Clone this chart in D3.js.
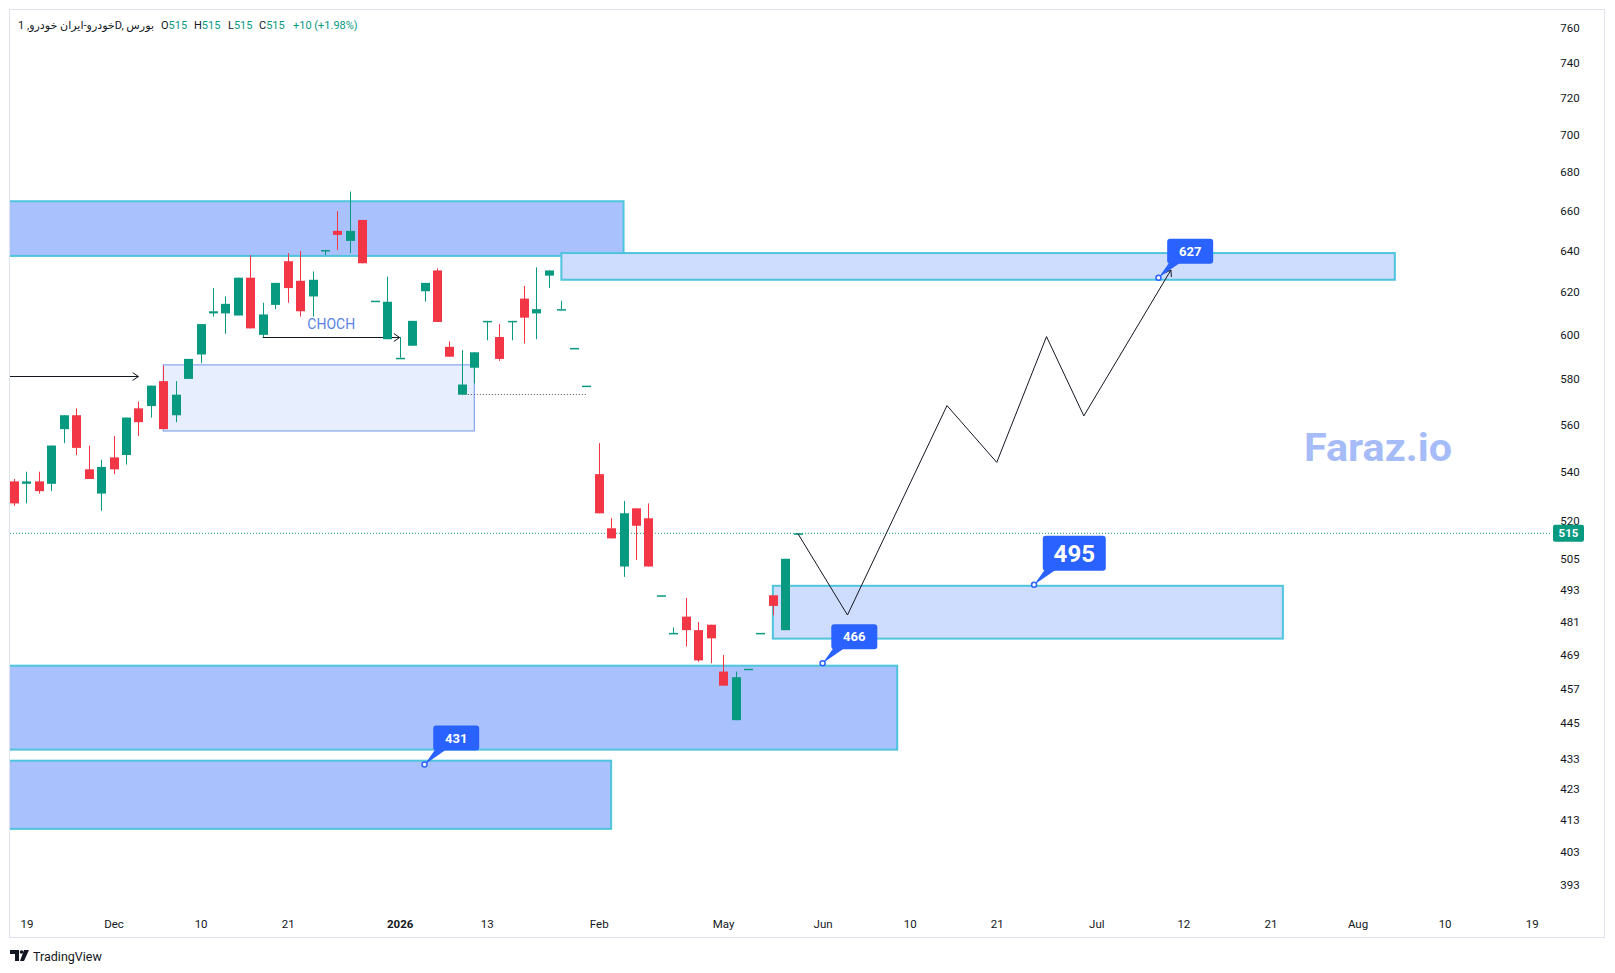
<!DOCTYPE html>
<html lang="en">
<head>
<meta charset="utf-8">
<title>Iran Khodro daily chart</title>
<script type="text/javascript" src="https://cdn.jsdelivr.net/npm/d3@7/dist/d3.min.js"></script>
<style type="text/css">
    body { margin: 0; background: #ffffff; }
    svg text { font-family: Roboto, "Noto Sans", "DejaVu Sans", sans-serif; }
</style>
</head>
<body>
<script type="text/javascript">
//Daily candles, bar index 0..63
var opens  = [536, 535, 536, 535, 558, 564, 541, 531, 546, 547, 567, 568, 579, 564, 580, 591,
              610, 610, 609, 627, 600, 614, 635, 625.5, 618, 640.5, 650, 645, 655.5, 616, 598, 589.5,
              595, 620.5, 630.5, 594.5, 573, 585, 606.5, 599, 606.5, 617, 610, 628, 612, 594, 577,
              539, 517, 502, 525, 521, 491, 477, 483, 478, 480, 463, 446, 464, 477, 491, 478, 515];
var highs  = [537, 540, 540, 551, 564, 567, 551, 545, 555, 563, 570, 577, 586, 579, 589, 605,
              622, 618, 627, 638, 615, 624.5, 639, 640, 630, 640.5, 660, 670, 655.5, 616, 627.5, 599,
              606.5, 624.5, 631.5, 597, 593, 592, 606.5, 605, 606.5, 623, 632, 630.5, 616, 594, 577,
              552, 521, 528, 525, 527, 491, 479, 490, 481, 480, 469, 463, 464, 477, 491, 505, 515];
var lows   = [526, 527, 531, 532, 552, 547, 537, 524, 539, 543, 555, 563, 558, 561, 580, 587,
              608.5, 600.5, 609, 603, 599, 612, 615, 608.5, 608.5, 638, 640.5, 639, 634, 616, 598, 589.5,
              595, 615.5, 606, 590, 573, 578, 597.5, 588, 597.5, 596, 598, 622, 612, 594, 577,
              523, 513, 498, 504.5, 502, 491, 477, 472, 466.5, 466, 458, 446, 464, 477, 483.5, 478, 515];
var closes = [527, 536, 532, 551, 564, 550, 537, 542, 541, 563, 561, 577, 558, 573, 589, 605,
              611, 614.5, 627, 603, 609.5, 624.5, 622, 611, 626, 640.5, 648, 650, 634, 616, 615.5, 589.5,
              606.5, 624.5, 606, 590, 577.5, 592, 606.5, 589, 606.5, 608, 612, 630.5, 612, 594, 577,
              523, 513, 523, 518, 502, 491, 477, 478, 467, 475, 458, 461, 464, 477, 487, 505, 515];

//Time axis labels and the bar they sit under
var timeTicks  = [1, 8, 15, 22, 31, 38, 47, 57, 65, 72, 79, 87, 94, 101, 108, 115, 122];
var timeLabels = ["19", "Dec", "10", "21", "2026", "13", "Feb", "May", "Jun", "10", "21", "Jul", "12", "21", "Aug", "10", "19"];

//Price axis labels (log scale)
var priceTicks = [760, 740, 720, 700, 680, 660, 640, 620, 600, 580, 560, 540, 520,
                  505, 493, 481, 469, 457, 445, 433, 423, 413, 403, 393];

//Zones: from bar, to bar, top price, bottom price, kind
var zoneFrom   = [-2, 44, 12, 61, -2, -2];
var zoneTo     = [49, 111, 37, 102, 71, 48];
var zoneTop    = [665, 639, 586.3, 494.6, 465.1, 432.3];
var zoneBottom = [637.6, 626, 557.2, 474.9, 436, 410.2];
var zoneKind   = ["strong", "soft", "block", "soft", "strong", "strong"];

//Projected path
var pathBars   = [63, 67, 75, 79, 83, 86, 93];
var pathPrices = [515, 483.6, 568.2, 543.9, 599.2, 563.7, 630.7];

//Price callouts
var calloutBars   = [92, 82, 65, 33];
var calloutPrices = [627, 495, 466, 431];

//Other levels
var lastPrice = 515;
var trendArrow = {from: -2, to: 10, price: 581.4};
var chochArrow = {from: 20, to: 31, price: 599};
var lowLevel   = {from: 36, to: 46, price: 573.2};

var w = 1615;
var h = 973;
var plot = {left: 10, right: 1552, top: 10, bottom: 909};

var svg = d3.select("body")
            .append("svg")
            .attr("width", w)
            .attr("height", h);

//Scales
var xScale = d3.scaleLinear()
                .domain([0, 122])
                .range([14, 14 + 12.44 * 122]);

var yScale = d3.scaleLog()
                .domain([393, 760])
                .range([884.5, 27.8]);

//Outer frame
svg.append("rect")
    .attr("x", 9.5).attr("y", 9.5)
    .attr("width", 1595).attr("height", 928)
    .attr("fill", "#ffffff")
    .attr("stroke", "#e0e3eb");

svg.append("clipPath").attr("id", "plotClip")
    .append("rect")
    .attr("x", plot.left).attr("y", plot.top)
    .attr("width", plot.right - plot.left)
    .attr("height", plot.bottom - plot.top);

var g = svg.append("g").attr("clip-path", "url(#plotClip)");

//Zones
var zoneStyle = {
    strong: {fill: "#a9c1fd", stroke: "#4ec4dd", sw: 2},
    soft:   {fill: "#cedcfd", stroke: "#4ec4dd", sw: 2},
    block:  {fill: "#e7eefe", stroke: "#7097e6", sw: 1}
};
var zones = zoneFrom.map(function(d, i) {
    return {from: d, to: zoneTo[i], top: zoneTop[i], bottom: zoneBottom[i], kind: zoneKind[i]};
});
g.selectAll("rect.zone")
    .data(zones)
    .enter()
    .append("rect")
    .attr("class", "zone")
    .attr("x", function(d) { return xScale(d.from); })
    .attr("y", function(d) { return yScale(d.top); })
    .attr("width", function(d) { return xScale(d.to) - xScale(d.from); })
    .attr("height", function(d) { return yScale(d.bottom) - yScale(d.top); })
    .attr("fill", function(d) { return zoneStyle[d.kind].fill; })
    .attr("stroke", function(d) { return zoneStyle[d.kind].stroke; })
    .attr("stroke-width", function(d) { return zoneStyle[d.kind].sw; });

//Last price line
g.append("line")
    .attr("x1", plot.left).attr("x2", plot.right)
    .attr("y1", yScale(lastPrice)).attr("y2", yScale(lastPrice))
    .attr("stroke", "#089981")
    .attr("stroke-dasharray", "1,2");

//Chevron arrow head helper
function chevron(x, y, angle) {
    var len = 7, spread = 0.6;
    var a1 = angle + Math.PI - spread, a2 = angle + Math.PI + spread;
    g.append("path")
        .attr("d", "M" + (x + len * Math.cos(a1)) + "," + (y + len * Math.sin(a1)) +
                   "L" + x + "," + y +
                   "L" + (x + len * Math.cos(a2)) + "," + (y + len * Math.sin(a2)))
        .attr("fill", "none")
        .attr("stroke", "#131722")
        .attr("stroke-width", 1);
}

//Horizontal arrows
[trendArrow, chochArrow].forEach(function(a) {
    var y = Math.round(yScale(a.price)) + 0.5;
    g.append("line")
        .attr("x1", xScale(a.from)).attr("x2", xScale(a.to))
        .attr("y1", y).attr("y2", y)
        .attr("stroke", "#131722");
    chevron(xScale(a.to), y, 0);
});

g.append("text")
    .attr("x", xScale((chochArrow.from + chochArrow.to) / 2))
    .attr("y", yScale(chochArrow.price) - 8)
    .attr("text-anchor", "middle")
    .attr("font-size", "14px")
    .attr("fill", "#5a82e4")
    .text("CHOCH");

//Dotted low level
g.append("line")
    .attr("x1", xScale(lowLevel.from)).attr("x2", xScale(lowLevel.to))
    .attr("y1", Math.round(yScale(lowLevel.price)) + 0.5)
    .attr("y2", Math.round(yScale(lowLevel.price)) + 0.5)
    .attr("stroke", "#50535e")
    .attr("stroke-dasharray", "1,2");

//Candles
var candles = opens.map(function(o, i) {
    return {i: i, o: o, h: highs[i], l: lows[i], c: closes[i]};
});
var bodyW = 9;
var cg = g.selectAll("g.candle")
    .data(candles)
    .enter()
    .append("g")
    .attr("class", "candle")
    .attr("fill", function(d) { return d.c >= d.o ? "#089981" : "#f23645"; })
    .attr("stroke", function(d) { return d.c >= d.o ? "#089981" : "#f23645"; });

cg.append("line")
    .attr("x1", function(d) { return Math.round(xScale(d.i)) + 0.5; })
    .attr("x2", function(d) { return Math.round(xScale(d.i)) + 0.5; })
    .attr("y1", function(d) { return yScale(d.h); })
    .attr("y2", function(d) { return yScale(d.l); })
    .attr("stroke-width", 1);

cg.append("rect")
    .attr("stroke", "none")
    .attr("x", function(d) { return Math.round(xScale(d.i)) - 4; })
    .attr("width", bodyW)
    .attr("y", function(d) { return yScale(Math.max(d.o, d.c)); })
    .attr("height", function(d) {
        return Math.max(1.5, Math.abs(yScale(d.o) - yScale(d.c)));
    });

//Projected zigzag
var pts = pathBars.map(function(b, i) { return [xScale(b), yScale(pathPrices[i])]; });
g.append("path")
    .attr("d", d3.line()(pts))
    .attr("fill", "none")
    .attr("stroke", "#131722")
    .attr("stroke-width", 1);
var pA = pts[pts.length - 2], pB = pts[pts.length - 1];
chevron(pB[0], pB[1], Math.atan2(pB[1] - pA[1], pB[0] - pA[0]));

//Watermark
g.append("text")
    .attr("x", 1378)
    .attr("y", 461)
    .attr("text-anchor", "middle")
    .attr("font-family", "Lato, 'Open Sans', sans-serif")
    .attr("font-weight", "bold")
    .attr("font-size", "39px")
    .attr("fill", "#a6bcf8")
    .attr("textLength", 148)
    .attr("lengthAdjust", "spacingAndGlyphs")
    .text("Faraz.io");

//Callouts
calloutPrices.forEach(function(p, i) {
    var big = p === 495;
    var bw = big ? 63 : 46, bh = big ? 35 : 25;
    var dx = xScale(calloutBars[i]), dy = yScale(p);
    var left = dx + 8.7, bottom = dy - 14;
    g.append("path")
        .attr("d", "M" + (left + 2) + "," + (bottom - 1) + "L" + (left + 13) + "," + (bottom - 1) +
                   "L" + dx + "," + dy + "Z")
        .attr("fill", "#2962ff");
    g.append("rect")
        .attr("x", left).attr("y", bottom - bh)
        .attr("width", bw).attr("height", bh)
        .attr("rx", 3)
        .attr("fill", "#2962ff");
    g.append("text")
        .attr("x", left + bw / 2)
        .attr("y", bottom - bh / 2)
        .attr("dy", "0.36em")
        .attr("text-anchor", "middle")
        .attr("font-weight", "bold")
        .attr("font-size", big ? "24px" : "13px")
        .attr("fill", "#ffffff")
        .text(p);
    g.append("circle")
        .attr("cx", dx).attr("cy", dy).attr("r", 2.5)
        .attr("fill", "#ffffff")
        .attr("stroke", "#2962ff")
        .attr("stroke-width", 1.5);
});

//Price axis
var yAxis = d3.axisRight(yScale)
                .tickValues(priceTicks)
                .tickSize(0)
                .tickFormat(d3.format("d"));
var yg = svg.append("g")
    .attr("transform", "translate(" + plot.right + ",0)")
    .call(yAxis);
yg.select(".domain").remove();
yg.selectAll("text")
    .attr("x", 18)
    .attr("text-anchor", "middle")
    .attr("font-family", null)
    .attr("font-size", "11.5px")
    .attr("fill", "#131722");

//Last price tag
var ly = yScale(lastPrice);
svg.append("rect")
    .attr("x", 1553).attr("y", ly - 8.5)
    .attr("width", 31).attr("height", 17)
    .attr("rx", 2)
    .attr("fill", "#089981");
svg.append("text")
    .attr("x", 1568.5).attr("y", ly)
    .attr("dy", "0.35em")
    .attr("text-anchor", "middle")
    .attr("font-size", "11.5px")
    .attr("font-weight", "bold")
    .attr("fill", "#ffffff")
    .text(lastPrice);

//Time axis
var xAxis = d3.axisBottom(xScale)
                .tickValues(timeTicks)
                .tickSize(0)
                .tickPadding(11)
                .tickFormat(function(d, i) { return timeLabels[i]; });
var xg = svg.append("g")
    .attr("transform", "translate(0," + plot.bottom + ")")
    .call(xAxis);
xg.select(".domain").remove();
xg.selectAll("text")
    .attr("font-family", null)
    .attr("font-size", "11.5px")
    .attr("fill", "#131722")
    .attr("font-weight", function(d, i) { return timeLabels[i] === "2026" ? "bold" : null; });

//Legend line
svg.append("text")
    .attr("x", 18).attr("y", 29)
    .attr("font-size", "11px")
    .attr("fill", "#131722")
    .attr("textLength", 136)
    .attr("lengthAdjust", "spacingAndGlyphs")
    .text("خودرو-ایران خودرو, 1D, بورس");

var ohlcKeys = ["O", "H", "L", "C"];
var ohlcX = [161, 194, 228, 259];
ohlcKeys.forEach(function(k, i) {
    var t = svg.append("text")
        .attr("x", ohlcX[i]).attr("y", 29)
        .attr("font-size", "11px")
        .attr("fill", "#131722");
    t.append("tspan").text(k);
    t.append("tspan").attr("fill", "#089981").text(lastPrice);
});
svg.append("text")
    .attr("x", 293).attr("y", 29)
    .attr("font-size", "11px")
    .attr("fill", "#089981")
    .text("+10 (+1.98%)");

//TradingView mark
svg.append("path")
    .attr("d", "M10,950h9v11h-4v-7h-5z M24,950h5l-5,11h-4z")
    .attr("fill", "#131722");
svg.append("circle")
    .attr("cx", 21.5).attr("cy", 952).attr("r", 1.8)
    .attr("fill", "#131722");
svg.append("text")
    .attr("x", 33).attr("y", 961)
    .attr("font-size", "12.5px")
    .attr("fill", "#131722")
    .text("TradingView");
</script>
</body>
</html>
